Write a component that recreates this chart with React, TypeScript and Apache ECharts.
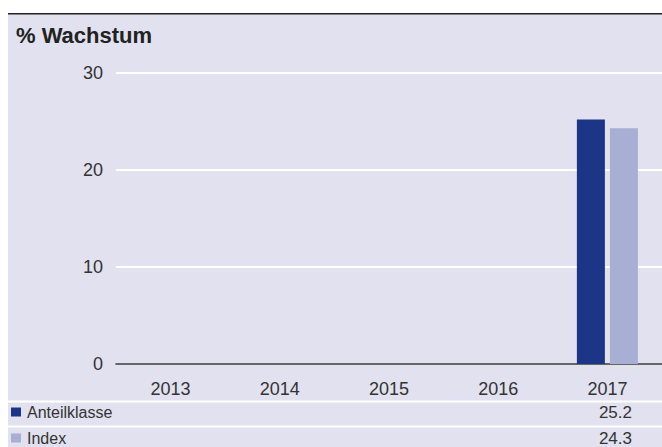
import React, { useEffect, useRef } from "react";
import * as echarts from "echarts";

const categories = ["2013", "2014", "2015", "2016", "2017"];
const seriesNames = ["Anteilklasse", "Index"];
const anteilklasse: (number | null)[] = [null, null, null, null, 25.2];
const indexValues: (number | null)[] = [null, null, null, null, 24.3];
const yTicks = [0, 10, 20, 30];
const title = "% Wachstum";

const W = 654;
const H = 434;
const BG = "#e1e1ef";
const DARK = "#1d3586";
const LIGHT = "#a9aed3";
const TEXT = "#333333";

const GRID_LEFT = 108;
const GRID_RIGHT = -4;
const GRID_TOP = 60;
const GRID_BOTTOM = 83;

export default function App() {
  const ref = useRef<HTMLDivElement>(null);
  useEffect(() => {
    if (!ref.current) return;
    const chart = echarts.init(ref.current, undefined, { renderer: "svg" });
    const font = "'Liberation Sans', Arial, sans-serif";
    const gridW = W - GRID_LEFT - GRID_RIGHT;
    const catW = gridW / categories.length;
    const center = (i: number) => GRID_LEFT + (i + 0.5) * catW;
    const allSeries = [anteilklasse, indexValues];
    const colors = [DARK, LIGHT];
    const rowY = [399, 425];

    const graphic: any[] = [
      { type: "rect", shape: { x: 0, y: 0, width: W, height: 1.6 }, style: { fill: "#222" }, silent: true },
      {
        type: "text",
        x: 8,
        y: 22,
        style: { text: title, font: `bold 22px ${font}`, fill: "#222", verticalAlign: "middle" },
      },
      { type: "rect", shape: { x: 0, y: 387.5, width: W, height: 2 }, style: { fill: "#ffffff" } },
      { type: "rect", shape: { x: 0, y: 412.5, width: W, height: 2 }, style: { fill: "#ffffff" } },
    ];
    seriesNames.forEach((name, r) => {
      graphic.push({
        type: "rect",
        shape: { x: 3, y: rowY[r] - 4.5, width: 10, height: 9 },
        style: { fill: colors[r] },
      });
      graphic.push({
        type: "text",
        x: 19,
        y: rowY[r],
        style: { text: name, font: `16px ${font}`, fill: TEXT, verticalAlign: "middle" },
      });
      allSeries[r].forEach((v, i) => {
        if (v === null) return;
        graphic.push({
          type: "text",
          x: center(i) + 21,
          y: rowY[r],
          style: {
            text: v.toFixed(1),
            font: `17px ${font}`,
            fill: TEXT,
            align: "right",
            verticalAlign: "middle",
          },
        });
      });
    });

    chart.setOption({
      animation: false,
      backgroundColor: BG,
      grid: { left: GRID_LEFT, right: GRID_RIGHT, top: GRID_TOP, bottom: GRID_BOTTOM, containLabel: false },
      xAxis: {
        type: "category",
        data: categories,
        axisLine: { show: true, lineStyle: { color: "#333", width: 1.5 } },
        axisTick: { show: false },
        axisLabel: { color: TEXT, fontSize: 18, fontFamily: font, margin: 16 },
      },
      yAxis: {
        type: "value",
        min: yTicks[0],
        max: yTicks[yTicks.length - 1],
        interval: 10,
        axisLine: { show: false },
        axisTick: { show: false },
        splitLine: { show: true, lineStyle: { color: "#ffffff", width: 2 } },
        axisLabel: { color: TEXT, fontSize: 18, fontFamily: font, margin: 13 },
      },
      series: [
        {
          name: seriesNames[0],
          type: "bar",
          data: anteilklasse,
          barWidth: 28,
          barGap: "18%",
          itemStyle: { color: DARK },
        },
        {
          name: seriesNames[1],
          type: "bar",
          data: indexValues,
          barWidth: 28,
          barGap: "18%",
          itemStyle: { color: LIGHT },
        },
      ],
      graphic,
    });
    return () => chart.dispose();
  }, []);

  return (
    <div
      ref={ref}
      style={{ position: "absolute", left: 8, top: 13, width: W, height: H }}
    />
  );
}
